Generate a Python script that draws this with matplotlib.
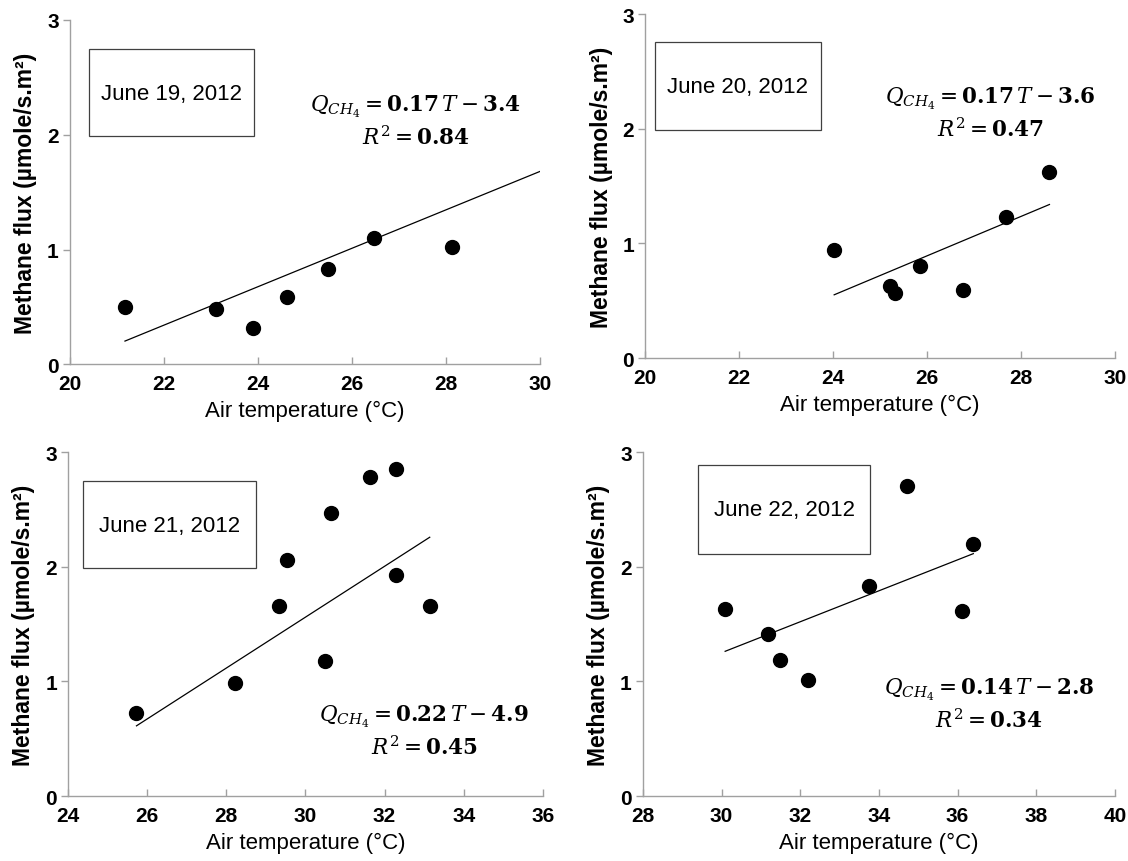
import numpy as np
import matplotlib.pyplot as plt
from matplotlib.patches import Rectangle

plt.rcParams['font.family'] = ['Liberation Sans', 'DejaVu Sans']
plt.rcParams['mathtext.fontset'] = 'dejavuserif'

# June 19
t19 = [21.17, 23.10, 23.89, 24.62, 25.49, 26.47, 28.13]
q19 = [0.50, 0.48, 0.32, 0.59, 0.83, 1.10, 1.02]
# June 20
t20 = [24.02, 25.21, 25.31, 25.85, 26.77, 27.68, 28.60]
q20 = [0.94, 0.63, 0.57, 0.80, 0.59, 1.23, 1.62]
# June 21
t21 = [25.73, 28.21, 29.33, 29.54, 30.49, 30.65, 31.62, 32.28, 32.30, 33.14]
q21 = [0.72, 0.99, 1.66, 2.06, 1.18, 2.47, 2.78, 2.85, 1.93, 1.66]
# June 22
t22 = [30.09, 31.18, 31.49, 32.20, 33.76, 34.72, 36.12, 36.40]
q22 = [1.63, 1.41, 1.19, 1.01, 1.83, 2.70, 1.61, 2.20]

# trend lines (slope, intercept, x start, x end)
fit19 = (0.1673, -3.338, 21.17, 30.0)
fit20 = (0.172, -3.58, 24.02, 28.60)
fit21 = (0.222, -5.10, 25.73, 33.14)
fit22 = (0.135, -2.80, 30.09, 36.40)

dates = ['June 19, 2012', 'June 20, 2012', 'June 21, 2012', 'June 22, 2012']
eqs = [('0.17', '3.4', '0.84'), ('0.17', '3.6', '0.47'),
       ('0.22', '4.9', '0.45'), ('0.14', '2.8', '0.34')]

panels = [
    dict(t=t19, q=q19, fit=fit19, xlim=(20, 30), xt=np.arange(20, 31, 2),
         pos=[0.0620, 0.576, 0.417, 0.400], box=(20.40, 1.984, 3.52, 0.76),
         txt=(22.16, 2.36), eq=(27.35, 2.25)),
    dict(t=t20, q=q20, fit=fit20, xlim=(20, 30), xt=np.arange(20, 31, 2),
         pos=[0.572, 0.5835, 0.4167, 0.399], box=(20.20, 1.99, 3.53, 0.766),
         txt=(21.96, 2.37), eq=(27.35, 2.27)),
    dict(t=t21, q=q21, fit=fit21, xlim=(24, 36), xt=np.arange(24, 37, 2),
         pos=[0.0603, 0.0754, 0.421, 0.399], box=(24.39, 1.99, 4.36, 0.756),
         txt=(26.57, 2.36), eq=(33.0, 0.70)),
    dict(t=t22, q=q22, fit=fit22, xlim=(28, 40), xt=np.arange(28, 41, 2),
         pos=[0.570, 0.0754, 0.4184, 0.399], box=(29.40, 2.115, 4.38, 0.771),
         txt=(31.59, 2.50), eq=(36.8, 0.935)),
]

fig = plt.figure(figsize=(11.28, 8.62), dpi=100)

for i, p in enumerate(panels):
    ax = fig.add_axes(p['pos'])
    ax.scatter(p['t'], p['q'], s=100, color='black', zorder=3)
    m, b, x0, x1 = p['fit']
    xs = np.array([x0, x1])
    ax.plot(xs, m * xs + b, color='black', lw=0.9)

    ax.set_xlim(p['xlim'])
    ax.set_ylim(0, 3)
    ax.set_xticks(p['xt'])
    ax.set_yticks([0, 1, 2, 3])
    for s in ['top', 'right']:
        ax.spines[s].set_visible(False)
    for s in ['left', 'bottom']:
        ax.spines[s].set_color('#a0a0a0')
        ax.spines[s].set_linewidth(1.0)
    ax.tick_params(axis='x', direction='in', color='#a0a0a0', length=5, width=1.0,
                   labelsize=15, pad=7)
    ax.tick_params(axis='y', direction='out', color='#a0a0a0', length=5, width=1.0,
                   labelsize=15, pad=3)
    for lab in ax.get_xticklabels() + ax.get_yticklabels():
        lab.set_fontweight('bold')
    ax.set_xlabel('Air temperature (°C)', fontsize=16, labelpad=5)
    ax.set_ylabel('Methane flux (µmole/s.m²)', fontsize=16.5, fontweight='bold', labelpad=7)

    bx, by, bw, bh = p['box']
    ax.add_patch(Rectangle((bx, by), bw, bh, fill=False, ec='#404040', lw=0.9,
                           clip_on=False))
    ax.text(p['txt'][0], p['txt'][1], dates[i], ha='center', va='center', fontsize=16)

    sl, ic, r2 = eqs[i]
    ex, ey = p['eq']
    ax.text(ex, ey, r'$\mathit{Q}_{\mathit{CH}_4}=\mathbf{' + sl + r'}\,\mathit{T}-\mathbf{' + ic + '}$',
            ha='center', va='center', fontsize=15.5)
    ax.text(ex, ey - 0.27, r'$\mathit{R}^2=\mathbf{' + r2 + '}$',
            ha='center', va='center', fontsize=15.5)

fig.savefig('out.png', dpi=100)
